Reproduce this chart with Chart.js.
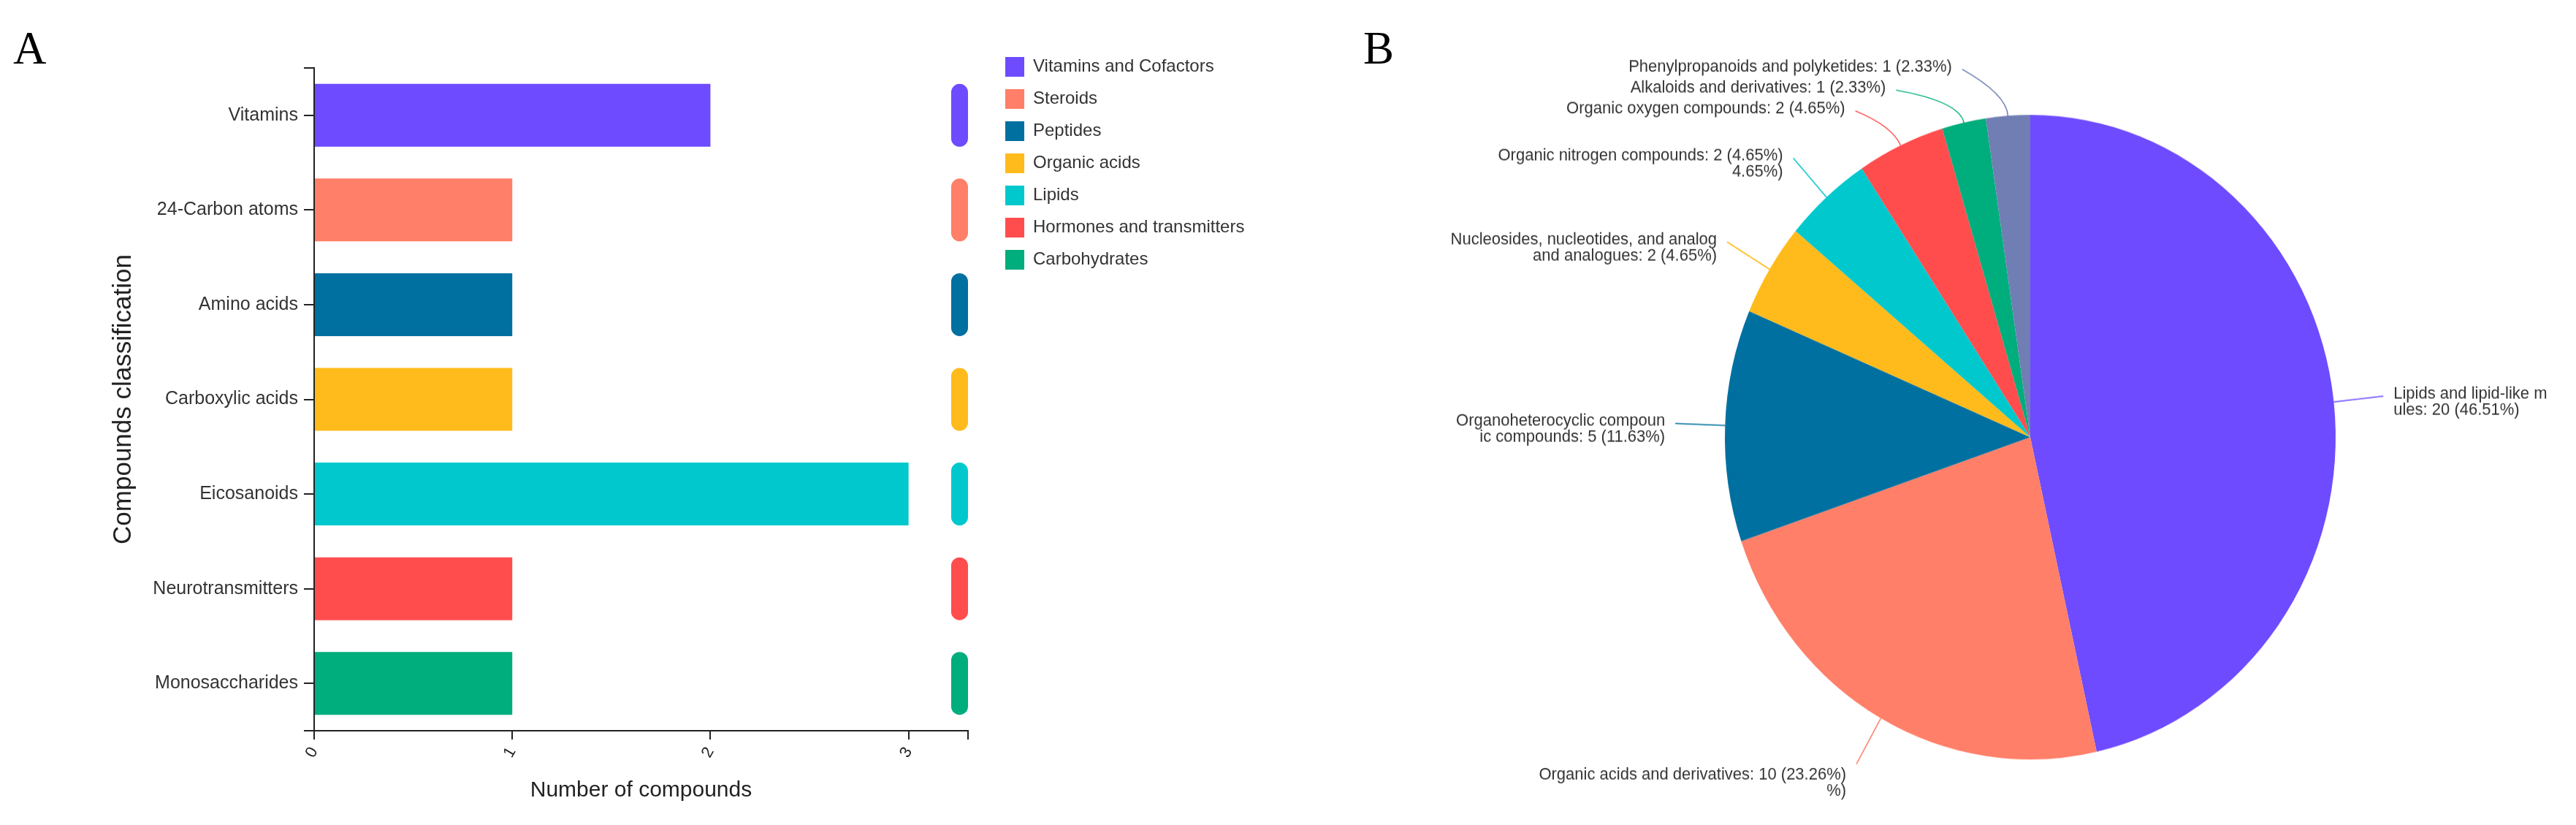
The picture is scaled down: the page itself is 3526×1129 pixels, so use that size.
<!DOCTYPE html>
<html><head><meta charset="utf-8">
<script src="https://cdn.jsdelivr.net/npm/chart.js@4.4.1/dist/chart.umd.min.js"></script>
<style>
html,body{margin:0;padding:0;background:#fff;}
#wrap{position:relative;width:3526px;height:1129px;overflow:hidden;background:#fff;}
#cA{position:absolute;left:0;top:0;}
#cB{position:absolute;left:1800px;top:0;}
.panel{position:absolute;font-family:'Liberation Serif','Times New Roman',serif;font-size:63px;line-height:63px;color:#000;}
</style></head><body>
<div id="wrap">
<canvas id="cA" width="1800" height="1129" style="width:1800px;height:1129px;"></canvas>
<canvas id="cB" width="1726" height="1070" style="width:1726px;height:1129px;"></canvas>
<div class="panel" style="left:18px;top:35px;">A</div>
<div class="panel" style="left:1866px;top:35px;">B</div>
</div>
<script>
// ---------- Data: panel A ----------
const barCategories = ['Vitamins', '24-Carbon atoms', 'Amino acids', 'Carboxylic acids', 'Eicosanoids', 'Neurotransmitters', 'Monosaccharides'];
const barValues = [2, 1, 1, 1, 3, 1, 1];
const legendLabels = ['Vitamins and Cofactors', 'Steroids', 'Peptides', 'Organic acids', 'Lipids', 'Hormones and transmitters', 'Carbohydrates'];
const groupMarkerRange = [3.215, 3.3];
const xTickLabels = [0, 1, 2, 3];

// ---------- Data: panel B ----------
const pieCategories = ['Lipids and lipid-like molecules', 'Organic acids and derivatives', 'Organoheterocyclic compounds', 'Nucleosides, nucleotides, and analogues', 'Organic nitrogen compounds', 'Organic oxygen compounds', 'Alkaloids and derivatives', 'Phenylpropanoids and polyketides'];
const pieValues = [20, 10, 5, 2, 2, 2, 1, 1];
const pieLabelLines = [
  ['Lipids and lipid-like m', 'ules: 20 (46.51%)'],
  ['Organic acids and derivatives: 10 (23.26%)', '%)'],
  ['Organoheterocyclic compoun', 'ic compounds: 5 (11.63%)'],
  ['Nucleosides, nucleotides, and analog', 'and analogues: 2 (4.65%)'],
  ['Organic nitrogen compounds: 2 (4.65%)', '4.65%)'],
  ['Organic oxygen compounds: 2 (4.65%)'],
  ['Alkaloids and derivatives: 1 (2.33%)'],
  ['Phenylpropanoids and polyketides: 1 (2.33%)']
];

// ---------- Styles ----------
const barColors = ['#6e4bff', '#ff7f68', '#0070a0', '#ffbb1c', '#00c8cd', '#ff4d4e', '#00ad7c'];
const pieColors = ['#6e4bff', '#ff7f68', '#0070a0', '#ffbb1c', '#00c8cd', '#ff4d4e', '#00ad7c', '#707eb3'];
const SANS = '"Liberation Sans", Arial, sans-serif';

const axisExtras = {
  id: 'axisExtras',
  afterDraw(chart) {
    const {ctx, chartArea: a} = chart;
    ctx.save();
    ctx.strokeStyle = '#222';
    ctx.lineWidth = 2;
    ctx.beginPath();
    ctx.moveTo(a.left - 14, a.top); ctx.lineTo(a.left, a.top);
    ctx.moveTo(a.left - 14, a.bottom); ctx.lineTo(a.left, a.bottom);
    ctx.stroke();
    ctx.restore();
  }
};

new Chart(document.getElementById('cA'), {
  type: 'bar',
  data: {
    labels: barCategories,
    datasets: [
      { label: 'Number of compounds', data: barValues, backgroundColor: barColors, borderWidth: 0,
        categoryPercentage: 1, barPercentage: 0.664, grouped: false, xAxisID: 'x', yAxisID: 'y' },
      { label: 'Group', data: barCategories.map(() => groupMarkerRange), backgroundColor: barColors, borderWidth: 0,
        categoryPercentage: 1, barPercentage: 0.664, grouped: false, borderRadius: 12, borderSkipped: false, xAxisID: 'x', yAxisID: 'y' }
    ]
  },
  options: {
    indexAxis: 'y',
    responsive: false,
    animation: false,
    events: [],
    layout: { padding: { top: 61, left: 0, right: 91, bottom: 0 } },
    scales: {
      x: {
        type: 'linear', position: 'bottom', min: 0, max: 3.3,
        afterFit: s => { s.height = 129; },
        grid: { display: true, drawOnChartArea: false, drawTicks: true, tickLength: 12, color: '#222', lineWidth: 2 },
        border: { display: true, color: '#222', width: 2 },
        ticks: { stepSize: 1, autoSkip: false, maxRotation: 60, minRotation: 60, padding: 6, color: '#222',
          font: { family: SANS, size: 22 },
          callback: v => xTickLabels.includes(v) ? String(v) : '' },
        title: { display: true, text: 'Number of compounds', color: '#222',
          font: { family: SANS, size: 30 }, padding: { top: 0, bottom: 29 } }
      },
      y: {
        type: 'category', position: 'left', offset: true,
        afterFit: s => { s.width = 430; },
        grid: { display: true, offset: false, drawOnChartArea: false, drawTicks: true, tickLength: 14, color: '#222', lineWidth: 2 },
        border: { display: true, color: '#222', width: 2 },
        ticks: { padding: 8, color: '#333', font: { family: SANS, size: 25 } },
        title: { display: true, text: 'Compounds classification', color: '#222',
          font: { family: SANS, size: 35 }, padding: { top: 148, bottom: 0 } }
      },
      xTop: { type: 'linear', position: 'top', display: true, grid: { display: false }, border: { display: false },
        ticks: { display: false }, afterFit: s => { s.height = 32; } },
      yRight: { type: 'linear', position: 'right', display: true, grid: { display: false }, border: { display: false },
        ticks: { display: false }, afterFit: s => { s.width = 34; } }
    },
    plugins: {
      tooltip: { enabled: false },
      legend: {
        display: true, position: 'right', align: 'start', maxWidth: 350,
        labels: {
          boxWidth: 26, boxHeight: 27, padding: 17, color: '#333',
          font: { family: SANS, size: 24 },
          generateLabels: () => legendLabels.map((t, i) => ({
            text: t, fillStyle: barColors[i], strokeStyle: barColors[i], lineWidth: 0,
            hidden: false, index: i, datasetIndex: 0, fontColor: '#333'
          }))
        }
      }
    }
  },
  plugins: [axisExtras]
});

const pieLabelPlugin = {
  id: 'pieLabels',
  afterDatasetsDraw(chart) {
    const arcs = chart.getDatasetMeta(0).data;
    if (!arcs.length) return;
    const ctx = chart.ctx;
    const cx = arcs[0].x, cy = arcs[0].y, r = arcs[0].outerRadius;
    const elbowR = r + 28, endR = r * 1.163, lineH = 21, textGap = 14, topBound = cy - endR + 9;
    const items = arcs.map((a, i) => {
      const mid = (a.startAngle + a.endAngle) / 2;
      const c = Math.cos(mid), s = Math.sin(mid);
      return { i, c, s, side: c >= 0 ? 1 : -1, y: cy + endR * s, lines: pieLabelLines[i] };
    });
    [1, -1].forEach(side => {
      const group = items.filter(it => it.side === side).sort((p, q) => p.y - q.y);
      let prev = null;
      group.forEach(it => {
        let y = Math.max(it.y, topBound);
        if (prev) y = Math.max(y, prev.y + prev.lines.length * lineH + 6);
        it.y = y;
        prev = it;
      });
    });
    ctx.save();
    ctx.font = '22px ' + SANS;
    ctx.textBaseline = 'middle';
    items.forEach(it => {
      const dy = Math.max(-endR, Math.min(endR, it.y - cy));
      const x2 = cx + it.side * Math.sqrt(endR * endR - dy * dy);
      const p0x = cx + r * it.c, p0y = cy + r * it.s;
      const p1x = cx + elbowR * it.c, p1y = cy + elbowR * it.s;
      ctx.strokeStyle = pieColors[it.i];
      ctx.lineWidth = 1.5;
      ctx.beginPath();
      ctx.moveTo(p0x, p0y);
      ctx.quadraticCurveTo(p1x, p1y, x2, it.y);
      ctx.stroke();
      ctx.fillStyle = '#333';
      ctx.textAlign = it.side > 0 ? 'left' : 'right';
      const textY0 = it.s > 0.5 ? it.y + 14 : it.y - 3;
      it.lines.forEach((t, j) => ctx.fillText(t, x2 + it.side * textGap, textY0 + j * lineH));
    });
    ctx.restore();
  }
};

new Chart(document.getElementById('cB'), {
  type: 'pie',
  data: {
    labels: pieCategories,
    datasets: [{ data: pieValues, backgroundColor: pieColors, borderWidth: 0, hoverOffset: 0, offset: 0 }]
  },
  options: {
    responsive: false,
    animation: false,
    events: [],
    layout: { padding: { left: 561, right: 329, top: 149, bottom: 85 } },
    plugins: { legend: { display: false }, tooltip: { enabled: false } }
  },
  plugins: [pieLabelPlugin]
});
</script>
</body></html>
